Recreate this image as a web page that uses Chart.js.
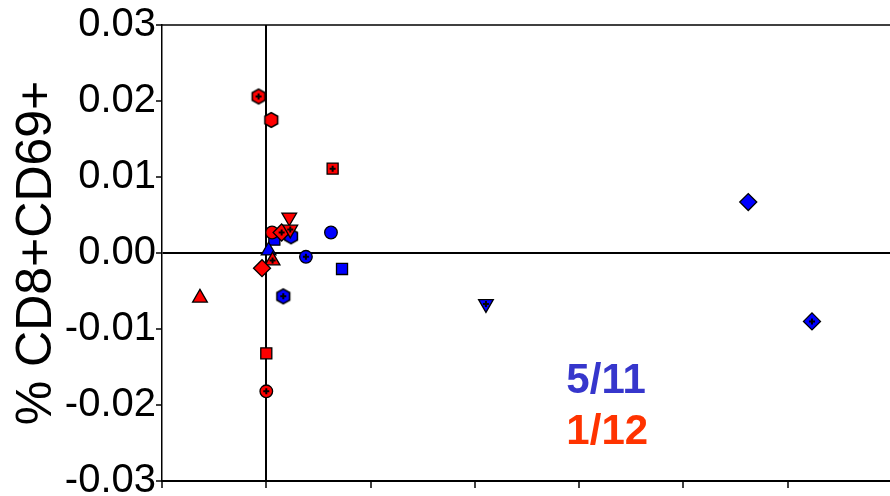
<!DOCTYPE html>
<html>
<head>
<meta charset="utf-8">
<script src="https://cdn.jsdelivr.net/npm/chart.js@4/dist/chart.umd.min.js"></script>
<style>
	html, body { margin: 0; padding: 0; background: #fff; overflow: hidden; }
	canvas { display: block; }
</style>
</head>
<body>
<canvas id="chart" width="890" height="496"></canvas>
<script>
// Axis ticks
const x_ticks = [-1, 0, 1, 2, 3, 4, 5]
const y_ticks = [-0.03, -0.02, -0.01, 0, 0.01, 0.02, 0.03]

// Series 5/11 (blue)
const blue_x = [0.62, 0.38, 0.077, 0.726, 0.022, 0.237, 0.163, 2.106, 4.621, 5.232]
const blue_y = [0.0027, -0.0005, 0.00175, -0.0021, 0.0003, 0.0022, -0.0057, -0.0067, 0.0067, -0.009]
const blue_shape = ["circle", "circle", "square", "square", "triangle", "hexagon", "hexagon", "down", "diamond", "diamond"]
const blue_cross = [0, 1, 0, 0, 0, 0, 1, 1, 0, 1]

// Series 1/12 (red)
const red_x = [-0.074, 0.048, 0.636, 0.22, 0.055, 0.147, 0.23, 0.06, -0.041, -0.636, 0.0, 0.0]
const red_y = [0.0206, 0.0175, 0.0111, 0.0047, 0.0027, 0.0027, 0.0031, -0.001, -0.002, -0.0059, -0.0132, -0.0182]
const red_shape = ["hexagon", "hexagon", "square", "down", "circle", "diamond", "down", "triangle", "diamond", "triangle", "square", "circle"]
const red_cross = [1, 0, 1, 0, 0, 1, 1, 1, 0, 0, 0, 1]

const labels = ["5/11", "1/12"]
const BLUE = "#0000ff"
const RED = "#ff0000"
const FONT = "'Liberation Sans', Arial, sans-serif"

function make_hexagon(fill) {
	const c = document.createElement("canvas")
	c.width = 18
	c.height = 20
	const g = c.getContext("2d")
	g.beginPath()
	for (let i = 0; i < 6; i++) {
		const a = Math.PI / 3 * i
		const px = 9 + 7.4 * Math.sin(a)
		const py = 10 - 7.4 * Math.cos(a)
		if (i === 0) g.moveTo(px, py)
		else g.lineTo(px, py)
	}
	g.closePath()
	g.fillStyle = fill
	g.fill()
	g.lineWidth = 1.5
	g.strokeStyle = "#000"
	g.stroke()
	return c
}

const hex_img = { [BLUE]: make_hexagon(BLUE), [RED]: make_hexagon(RED) }

function style_of(shape, color) {
	if (shape === "circle") return "circle"
	if (shape === "square") return "rect"
	if (shape === "diamond") return "rectRot"
	if (shape === "hexagon") return hex_img[color]
	return "triangle"
}

const radius_of = { circle: 6.3, square: 7.8, diamond: 8.5, hexagon: 8, triangle: 8.5, down: 8.5 }

function make_points(xs, ys) {
	return xs.map((x, i) => ({ x, y: ys[i] }))
}

function marker_dataset(label, xs, ys, shapes, color) {
	return {
		label,
		data: make_points(xs, ys),
		pointStyle: shapes.map(s => style_of(s, color)),
		pointRotation: shapes.map(s => s === "down" ? 180 : 0),
		pointRadius: shapes.map(s => radius_of[s]),
		backgroundColor: color,
		borderColor: "#000",
		borderWidth: 1.3
	}
}

function cross_dataset(xs, ys, flags) {
	const px = xs.filter((v, i) => flags[i])
	const py = ys.filter((v, i) => flags[i])
	return {
		label: "",
		data: make_points(px, py),
		pointStyle: "cross",
		pointRadius: 3,
		borderColor: "#000",
		borderWidth: 2,
		order: -1
	}
}

const zero_line = ctx => (ctx.tick && ctx.tick.value === 0) ? "#000" : "rgba(0,0,0,0)"

const frame_plugin = {
	id: "frame",
	beforeDatasetsDraw(chart) {
		const { ctx, chartArea } = chart
		ctx.save()
		ctx.strokeStyle = "#000"
		ctx.lineWidth = 1.5
		ctx.beginPath()
		ctx.moveTo(chartArea.left, chartArea.top)
		ctx.lineTo(chartArea.right, chartArea.top)
		ctx.stroke()
		ctx.restore()
	},
	afterDraw(chart) {
		const { ctx } = chart
		const xs = chart.scales.x
		const ys = chart.scales.y
		const left = xs.getPixelForValue(2.877)
		ctx.save()
		ctx.font = "bold 42px " + FONT
		ctx.textAlign = "left"
		ctx.textBaseline = "alphabetic"
		ctx.fillStyle = "#3636cc"
		ctx.fillText(labels[0], left, ys.getPixelForValue(-0.0184))
		ctx.fillStyle = "#ff3300"
		ctx.fillText(labels[1], left, ys.getPixelForValue(-0.0251))
		ctx.restore()
	}
}

new Chart(document.getElementById("chart"), {
	type: "scatter",
	data: {
		datasets: [
			cross_dataset(red_x, red_y, red_cross),
			cross_dataset(blue_x, blue_y, blue_cross),
			marker_dataset(labels[1], red_x, red_y, red_shape, RED),
			marker_dataset(labels[0], blue_x, blue_y, blue_shape, BLUE)
		]
	},
	options: {
		responsive: false,
		animation: false,
		layout: { autoPadding: false, padding: { top: 25, left: 0, right: 0, bottom: 0 } },
		plugins: {
			legend: { display: false },
			tooltip: { enabled: false }
		},
		scales: {
			x: {
				type: "linear",
				min: -1,
				max: 5.98,
				afterBuildTicks: scale => { scale.ticks = x_ticks.map(v => ({ value: v })) },
				afterFit: scale => {
					scale.height = 15
					scale.paddingLeft = 0
					scale.paddingRight = 0
				},
				ticks: { display: false },
				grid: {
					color: zero_line,
					lineWidth: 2,
					tickColor: "#000",
					tickWidth: 1.5,
					tickLength: 7
				},
				border: { color: "#000", width: 2 }
			},
			y: {
				type: "linear",
				min: -0.03,
				max: 0.03,
				afterBuildTicks: scale => { scale.ticks = y_ticks.map(v => ({ value: v })) },
				afterFit: scale => {
					scale.width = 162
					scale.paddingTop = 0
					scale.paddingBottom = 0
				},
				ticks: {
					color: "#000",
					padding: 0,
					font: { family: FONT, size: 40 },
					callback: v => v.toFixed(2)
				},
				grid: {
					color: zero_line,
					lineWidth: 2,
					tickColor: "#000",
					tickWidth: 1.5,
					tickLength: 6
				},
				border: { color: "#000", width: 1.5 },
				title: {
					display: true,
					text: "% CD8+CD69+",
					color: "#000",
					padding: { top: 7, bottom: 0 },
					font: { family: FONT, size: 50 }
				}
			}
		}
	},
	plugins: [frame_plugin]
})
</script>
</body>
</html>
